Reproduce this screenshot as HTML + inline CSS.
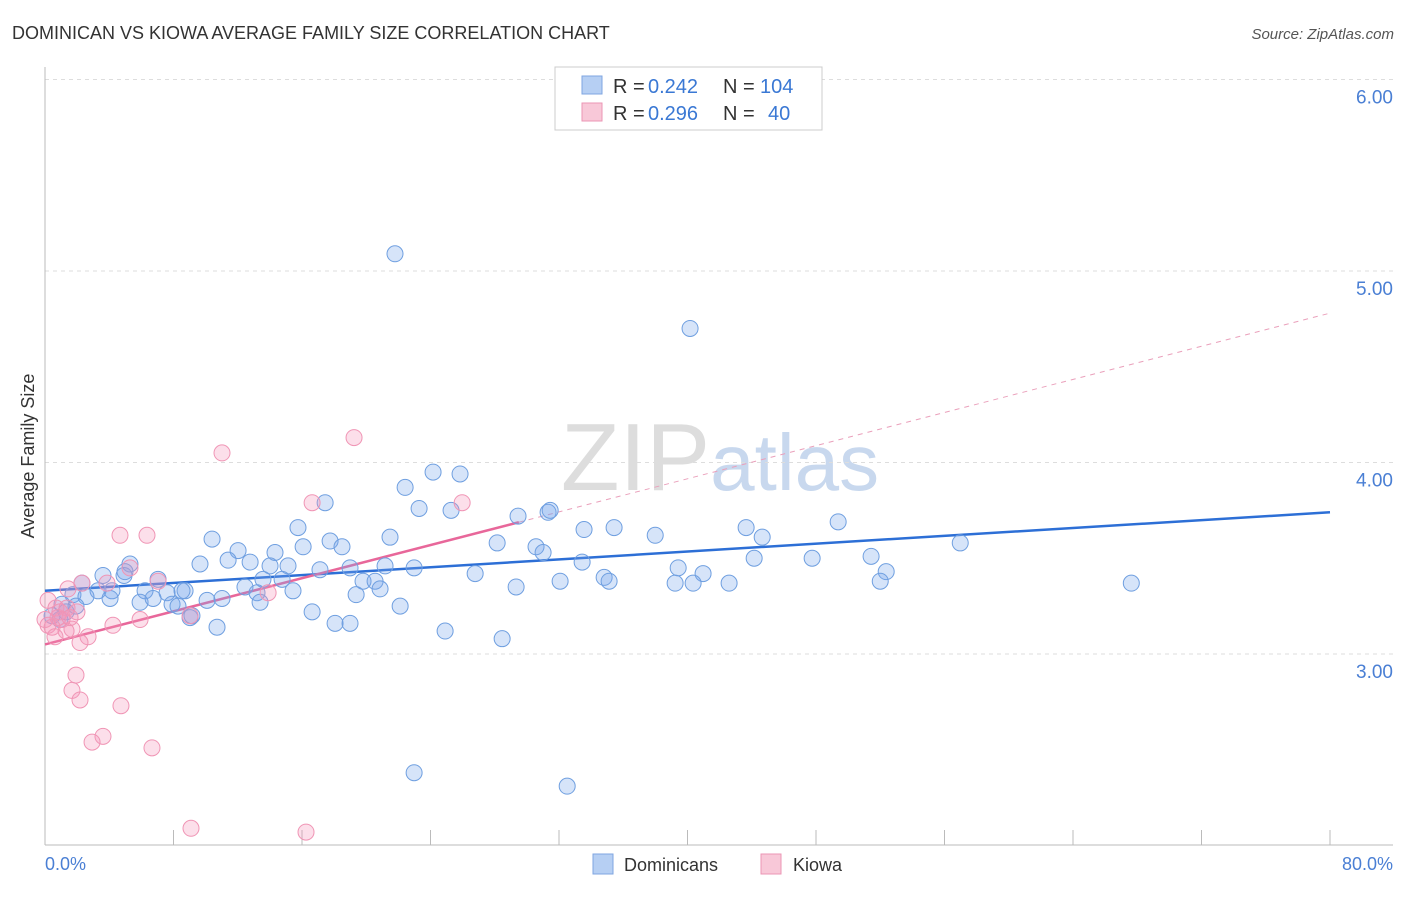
<!DOCTYPE html>
<html><head><meta charset="utf-8"><style>
body{margin:0;background:#fff;font-family:"Liberation Sans",sans-serif;}
svg text{font-family:"Liberation Sans",sans-serif;}
</style></head><body>
<svg id="chart" width="1406" height="892" xmlns="http://www.w3.org/2000/svg">
<text x="12" y="39" font-size="18" fill="#333">DOMINICAN VS KIOWA AVERAGE FAMILY SIZE CORRELATION CHART</text>
<text x="1394" y="39" font-size="15" fill="#555" text-anchor="end" font-style="italic">Source: ZipAtlas.com</text>
<text x="720" y="490" font-size="96" text-anchor="middle" fill="#ddd" font-family="Liberation Serif">ZIP<tspan fill="#c8d8ee" font-family="Liberation Sans" font-size="80">atlas</tspan></text>
<g id="grid"></g>
<g id="axes"></g>
<g id="lines"></g>
<g id="pts"></g>
<text transform="translate(34,456) rotate(-90)" font-size="18" fill="#333" text-anchor="middle">Average Family Size</text>
<text x="45" y="870" font-size="18" fill="#4a7fd4">0.0%</text>
<text x="1393" y="870" font-size="18" fill="#4a7fd4" text-anchor="end">80.0%</text>
<g>
<rect x="555" y="67" width="267" height="63" fill="#fff" stroke="#ccc"/>
<rect x="582" y="76" width="20" height="18" fill="#b6cff3" stroke="#7fa6e0"/>
<text x="613" y="93" font-size="20" fill="#333">R =</text>
<text x="648" y="93" font-size="20" fill="#3a78d4">0.242</text>
<text x="723" y="93" font-size="20" fill="#333">N =</text>
<text x="760" y="93" font-size="20" fill="#3a78d4">104</text>
<rect x="582" y="103" width="20" height="18" fill="#f8c8d8" stroke="#eb96b4"/>
<text x="613" y="120" font-size="20" fill="#333">R =</text>
<text x="648" y="120" font-size="20" fill="#3a78d4">0.296</text>
<text x="723" y="120" font-size="20" fill="#333">N =</text>
<text x="768" y="120" font-size="20" fill="#3a78d4">40</text>
</g>
<g><rect x="593" y="854" width="20" height="20" fill="#b6cff3" stroke="#7fa6e0"/><text x="624" y="871" font-size="18" fill="#333">Dominicans</text></g>
<g><rect x="761" y="854" width="20" height="20" fill="#f8c8d8" stroke="#eb96b4"/><text x="793" y="871" font-size="18" fill="#333">Kiowa</text></g>
</svg>
<script>
const yTicks=[3,4,5,6];
const yTickLabels=["3.00","4.00","5.00","6.00"];
const domX=[22.98,40.16,24.16,25.84,22.42,17.44,23.29,25.28,29.45,31.32,31.45,49.38,15.75,43.65,33.56,35.43,37.99,44.65,10.40,17.75,28.15,21.48,18.49,56.98,16.07,30.57,31.01,12.02,14.32,47.76,51.43,44.15,12.77,11.40,33.44,5.29,9.65,14.01,15.13,17.12,18.99,21.17,39.42,52.37,26.78,40.97,4.92,3.61,7.04,8.72,13.57,14.76,19.80,20.55,34.81,35.12,32.07,39.23,40.35,42.59,52.00,67.63,29.33,2.30,3.30,4.17,6.23,7.60,8.53,12.45,13.20,15.44,19.37,20.86,1.74,2.55,4.05,5.92,6.73,7.91,10.09,11.02,13.39,22.11,1.06,1.93,9.03,10.71,16.63,18.06,18.99,24.91,28.46,0.44,0.93,22.98,32.51,8.28,9.15,1.31,4.98,21.79];
const domY=[3.45,4.70,3.95,3.94,3.87,3.79,3.76,3.75,3.72,3.74,3.75,3.69,3.66,3.66,3.65,3.66,3.62,3.61,3.60,3.59,3.58,3.61,3.56,3.58,3.56,3.56,3.53,3.54,3.53,3.50,3.51,3.50,3.48,3.49,3.48,3.47,3.47,3.46,3.46,3.44,3.45,3.46,3.45,3.43,3.42,3.42,3.41,3.41,3.39,3.33,3.39,3.39,3.38,3.38,3.40,3.38,3.38,3.37,3.37,3.37,3.38,3.37,3.35,3.37,3.33,3.33,3.33,3.32,3.33,3.35,3.32,3.33,3.31,3.34,3.31,3.30,3.29,3.27,3.29,3.26,3.28,3.29,3.27,3.25,3.26,3.25,3.19,3.14,3.22,3.16,3.16,3.12,3.08,3.20,3.18,2.38,2.31,3.25,3.20,3.22,3.43,5.09];
const kioX=[19.24,11.02,16.63,25.97,4.67,6.35,5.29,7.04,2.30,3.86,1.43,0.19,0.68,1.37,1.99,0.81,1.06,0.19,0.44,1.68,1.31,4.23,5.92,2.68,0.62,2.18,13.89,9.03,1.93,1.68,2.18,4.73,3.61,2.93,6.66,9.09,16.25,0.93,0,1.56];
const kioY=[4.13,4.05,3.79,3.79,3.62,3.62,3.45,3.38,3.37,3.37,3.34,3.28,3.24,3.24,3.22,3.19,3.18,3.15,3.14,3.13,3.12,3.15,3.18,3.09,3.09,3.06,3.32,3.20,2.89,2.81,2.76,2.73,2.57,2.54,2.51,2.09,2.07,3.22,3.18,3.19];
const domTrend=[3.33,3.74];
const kioTrend=[3.05,4.78];
const kioSolidEnd=29.5;
const NS="http://www.w3.org/2000/svg";
const sx=v=>45+v*(1285/80);
const sy=v=>654-(v-3)*191.5;
function mk(t,a,p){const e=document.createElementNS(NS,t);for(const k in a)e.setAttribute(k,a[k]);p.appendChild(e);return e;}
const grid=document.getElementById('grid'),axes=document.getElementById('axes'),lines=document.getElementById('lines'),pts=document.getElementById('pts');
yTicks.forEach((t,i)=>{
 const l=mk('line',{x1:45,x2:1393,y1:sy(t),y2:sy(t),stroke:'#ddd','stroke-dasharray':'4,4'},grid);
 
 
 const tx=mk('text',{x:1393,y:sy(t)+24,'font-size':19,fill:'#4a7fd4','text-anchor':'end'},axes);
 tx.textContent=yTickLabels[i];
 
 
});
mk('line',{x1:45,x2:45,y1:67,y2:845,stroke:'#bbb'},axes);
mk('line',{x1:45,x2:1393,y1:845,y2:845,stroke:'#bbb'},axes);
for(let i=0;i<=10;i++){const t=mk('line',{x1:sx(i*8),x2:sx(i*8),y1:830,y2:845,stroke:'#bbb'},axes);
 
 }
const kAt=x=>kioTrend[0]+(kioTrend[1]-kioTrend[0])*x/80;
let l1=mk('line',{x1:sx(0),y1:sy(domTrend[0]),x2:sx(80),y2:sy(domTrend[1]),stroke:'#2d6fd6','stroke-width':2.5},lines);


let l2=mk('line',{x1:sx(0),y1:sy(kAt(0)),x2:sx(kioSolidEnd),y2:sy(kAt(kioSolidEnd)),stroke:'#e8679a','stroke-width':2.5},lines);


let l3=mk('line',{x1:sx(kioSolidEnd),y1:sy(kAt(kioSolidEnd)),x2:sx(80),y2:sy(kAt(80)),stroke:'#eaa0bb','stroke-width':1,'stroke-dasharray':'5,5'},lines);


domX.forEach((x,i)=>{const c=mk('circle',{cx:sx(x),cy:sy(domY[i]),r:8,fill:'rgba(120,165,235,0.3)',stroke:'#6f9fe0','stroke-width':1},pts);
 
 });
kioX.forEach((x,i)=>{const c=mk('circle',{cx:sx(x),cy:sy(kioY[i]),r:8,fill:'rgba(245,150,185,0.3)',stroke:'#f095b5','stroke-width':1},pts);
 
 });
</script>
</body></html>
